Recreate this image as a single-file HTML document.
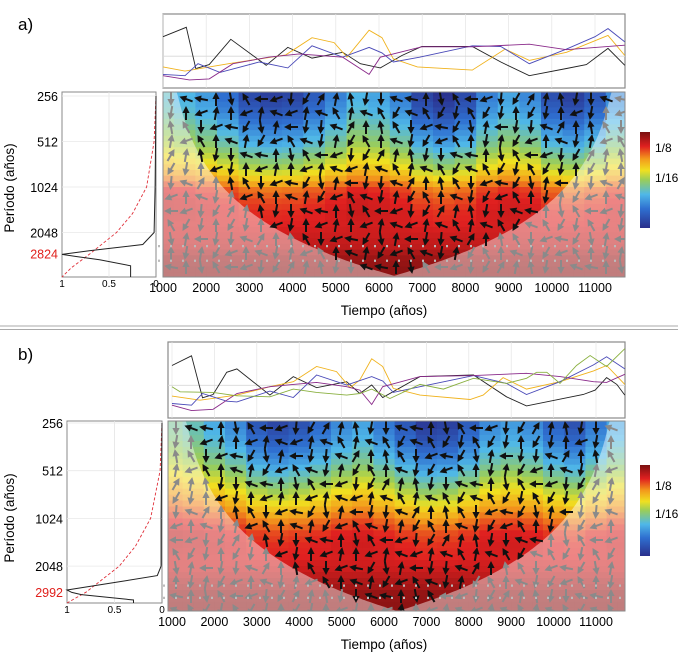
<!DOCTYPE html>
<html><head><meta charset="utf-8">
<style>
html,body{margin:0;padding:0;background:#fff;}
svg{display:block;font-family:"Liberation Sans",sans-serif;}
</style></head>
<body>
<svg id="fig" width="678" height="653" viewBox="0 0 678 653" xmlns="http://www.w3.org/2000/svg">
<defs>
<linearGradient id="cbar" x1="0" y1="1" x2="0" y2="0">
<stop offset="0" stop-color="#2a2f8c"/><stop offset="0.2" stop-color="#2f6fd0"/><stop offset="0.35" stop-color="#4fb8e8"/><stop offset="0.5" stop-color="#9acd5a"/><stop offset="0.6" stop-color="#f0e020"/><stop offset="0.72" stop-color="#f39a1c"/><stop offset="0.85" stop-color="#e02020"/><stop offset="1" stop-color="#7a1010"/>
</linearGradient>
</defs>
<line x1="0" y1="326" x2="678" y2="326" stroke="#aaa" stroke-width="1"/>
<line x1="0" y1="329.5" x2="678" y2="329.5" stroke="#aaa" stroke-width="1"/>
<text x="18" y="30" font-size="17">a)</text>
<text x="18" y="360" font-size="17">b)</text>
</svg>
<script>
// ---------- DATA: panel a ----------
const aBlackT=[1000,1540,1760,2070,2570,3390,3890,4450,5160,5570,6030,6530,6990,8160,8820,9480,10340,10800,11300,11700];
const aBlackV=[158,187,60,72,150,70,125,92,110,75,62,100,128,128,80,38,60,72,122,70];
const aOrangeT=[1000,1510,2520,3840,4450,4960,5260,5770,6070,6330,6890,8160,8920,9480,10340,11300,11700];
const aOrangeV=[65,52,75,102,155,140,95,178,155,90,65,55,120,85,110,162,100];
const aBlueT=[1000,1510,1810,2320,3230,3890,4450,5160,5770,6070,6330,6940,8160,8820,9480,10340,11000,11300,11700];
const aBlueV=[42,38,75,48,80,62,130,95,125,108,80,95,130,128,75,120,158,183,142];
const aPurpleT=[1000,1610,2070,2620,3440,4150,5160,5770,6030,6990,8160,9480,10340,11700];
const aPurpleV=[38,25,28,75,95,105,95,42,95,127,127,135,118,132];
// ---------- DATA: panel b ----------
const bBlackT=[1000,1460,1720,1970,2290,2530,3310,3860,4410,5120,5430,5710,5970,6850,8110,8890,9360,10700,10980,11250,11490,11680];
const bBlackV=[156,185,60,70,136,146,68,123,90,108,73,98,61,123,128,63,36,70,83,120,100,68];
const bOrangeT=[1000,1660,2530,3310,3860,4410,4880,5200,5430,5710,5970,6220,6850,8030,8340,8810,9360,10150,10940,11250,11680];
const bOrangeV=[65,53,68,93,108,153,138,90,113,176,153,88,68,55,68,120,86,108,140,156,100];
const bBlueT=[1000,1460,1720,2290,2530,3310,3860,4410,5120,5710,5970,6220,6850,8110,8890,9360,10150,10940,11250,11680];
const bBlueV=[43,38,73,50,48,80,61,128,98,123,110,76,93,126,103,70,108,158,182,146];
const bPurpleT=[1000,1460,1970,2530,3310,3860,4410,5120,5430,5710,5970,6850,8110,9360,10150,10940,11250,11680];
const bPurpleV=[38,22,26,73,93,100,106,93,83,40,93,123,126,133,123,108,106,130];
const bGreenT=[1000,1190,1970,2530,3310,3860,4410,5120,5430,5710,6140,6850,7400,8110,8890,9360,9600,9840,10150,10540,10860,11250,11680];
const bGreenV=[93,78,76,66,63,86,76,68,73,86,58,100,86,118,103,118,136,136,103,156,186,153,206];
// global wavelet power (left panels)
const aGwsP=[256,1024,2048,2460,2700,2860,2950,3100,3400,4050];
const aGwsV=[0.0,0.01,0.02,0.14,0.7,1.0,0.85,0.6,0.27,0.27];
const aSigP=[256,512,1024,1536,2048,2824,3500,4050];
const aSigV=[0.0,0.02,0.1,0.25,0.42,0.7,0.9,1.0];
const bGwsP=[256,1024,2048,2350,2600,2900,3000,3100,3350,3520];
const bGwsV=[0.0,0.01,0.01,0.05,0.5,1.0,0.95,0.85,0.3,0.3];
const bSigP=[256,512,1024,1536,2048,2992,3520];
const bSigV=[0.0,0.02,0.12,0.28,0.45,0.8,1.0];
// coherence power: row profile (log2 period 8..12 step .25), column adjustment (1000..11500 step 500)
const aRowPower=[0.2,0.24,0.3,0.36,0.42,0.5,0.58,0.68,0.8,0.84,0.86,0.86,0.88,0.9,0.95,0.97,0.97];
const aColAdj=[0.1,0.08,0.05,0.0,-0.06,-0.08,-0.07,-0.03,0.02,0.08,0.06,0.02,-0.07,-0.1,-0.06,0.02,0.06,0.03,-0.05,-0.08,-0.04,0.03];
const bRowPower=[0.22,0.26,0.32,0.38,0.46,0.54,0.62,0.7,0.78,0.84,0.86,0.86,0.88,0.92,0.96,0.97,0.97];
const bColAdj=[0.12,0.1,0.06,0.02,-0.05,-0.08,-0.06,-0.02,0.02,0.05,0.0,-0.05,-0.1,-0.09,-0.04,0.02,0.04,0.02,-0.03,-0.06,0.0,0.05];
const xTicks=[1000,2000,3000,4000,5000,6000,7000,8000,9000,10000,11000];
const yTicks=[256,512,1024,2048];

const NS="http://www.w3.org/2000/svg";
const svg=document.getElementById('fig');
function mk(tag,attrs,parent){const e=document.createElementNS(NS,tag);for(const k in attrs)e.setAttribute(k,attrs[k]);(parent||svg).appendChild(e);return e;}
const stops=[[0,[42,47,140]],[0.2,[47,111,208]],[0.35,[79,184,232]],[0.5,[154,205,90]],[0.6,[240,224,32]],[0.72,[243,154,28]],[0.85,[224,32,32]],[1,[122,16,16]]];
function cmap(v){v=Math.max(0,Math.min(1,v));for(let i=1;i<stops.length;i++){if(v<=stops[i][0]){const a=stops[i-1],b=stops[i];const f=(v-a[0])/(b[0]-a[0]);const c=a[1].map((x,k)=>Math.round(x+(b[1][k]-x)*f));return `rgb(${c})`;}}return 'rgb(122,16,16)';}

function panel(cfg){
  const P=cfg;
  const xs=t=>P.x0px+(t-1000)*P.pxPerYr;
  const ys=p=>P.y256+Math.log2(p/256)*P.pxPerOct;
  const g=mk('g',{});
  
  
  // top time series
  const T=P.top;
  const tg=mk('g',{},g);
  
  
  mk('rect',{x:T.x,y:T.y,width:T.w,height:T.h,fill:'#fff',stroke:'#8a8a8a','stroke-width':1.2},tg);
  xTicks.forEach(t=>{const gl=mk('line',{x1:xs(t),x2:xs(t),y1:T.y,y2:T.y+T.h,stroke:'#e4e4e4','stroke-width':0.7},tg);});
  mk('line',{x1:T.x,x2:T.x+T.w,y1:T.y+T.h*0.57,y2:T.y+T.h*0.57,stroke:'#d8d8d8','stroke-width':0.8},tg);
  const vy=v=>T.y+T.h-v/P.vmax*T.h;
  P.series.forEach(s=>{
    const d=s.t.map((t,i)=>(i?'L':'M')+xs(Math.min(t,11690)).toFixed(1)+','+vy(s.v[i]).toFixed(1)).join('');
    const pth=mk('path',{d:d,fill:'none',stroke:s.c,'stroke-width':0.9},tg);
    
    
  });
  // heatmap
  const H=P.heat;
  const hg=mk('g',{},g);
  
  
  const cid=P.id+'clip';
  const cp=mk('clipPath',{id:cid},hg);mk('rect',{x:H.x,y:H.y,width:H.w,height:H.h},cp);
  const cells=mk('g',{'clip-path':`url(#${cid})`},hg);
  const tStep=250, lStep=0.125;
  for(let t=750;t<11900;t+=tStep){
    const ci=Math.max(0,Math.min(P.colAdj.length-1,Math.round((t-1000)/500)));
    for(let l=7.75;l<12.2;l+=lStep){
      const ri=(l-8)/0.25;const r0=Math.max(0,Math.min(P.row.length-1,Math.floor(ri)));const r1=Math.min(P.row.length-1,r0+1);const f=Math.max(0,Math.min(1,ri-r0));
      const base=P.row[r0]*(1-f)+P.row[r1]*f;
      const w=Math.max(0,1-(l-8)/3);
      const v=base+P.colAdj[ci]*w*1.8;
      const x1=xs(t),x2=xs(t+tStep),y1=ys(256*Math.pow(2,l-8)),y2=ys(256*Math.pow(2,l-8+lStep));
      const r=mk('rect',{x:x1.toFixed(1),y:y1.toFixed(1),width:(x2-x1+0.6).toFixed(1),height:(y2-y1+0.6).toFixed(1),fill:cmap(v)},cells);
      
      
    }
  }
  const coi=t=>Math.max(1,0.74*Math.min(t-P.tStart,P.tEnd-t));
  const pts=[];
  for(let t=P.tStart;t<=P.tEnd;t+=50){const y=Math.min(H.y+H.h,ys(coi(t)));pts.push([xs(t),Math.max(H.y-2,y)]);}
  const cone='M'+pts.map(p=>p[0].toFixed(1)+','+p[1].toFixed(1)).join('L')+'Z';
  const outside=`M${H.x},${H.y}H${H.x+H.w}V${H.y+H.h}H${H.x}Z`+cone;
  const ov=mk('path',{d:outside,fill:'#fff','fill-opacity':0.45,'fill-rule':'evenodd','clip-path':`url(#${cid})`},hg);
  
  
  // phase arrows
  const angs=[90,-90,180,120,-100,200,80,160,-60,100,190,-120,95,-80];
  const ag=mk('g',{'clip-path':`url(#${cid})`},hg);
  let i=0;
  for(let x=H.x+8;x<H.x+H.w;x+=15){
    let j=0;
    for(let y=H.y+7;y<H.y+H.h;y+=14){
      const t=1000+(x-P.x0px)/P.pxPerYr;const p=256*Math.pow(2,(y-P.y256)/P.pxPerOct);
      const inside=p<coi(t);
      const a=angs[(i*5+j*9+((i*j)%4))%angs.length];
      const ar=mk('g',{transform:`translate(${x.toFixed(1)},${y.toFixed(1)}) rotate(${a})`},ag);
      const col=inside?'#111':'#8a8a8a';
      mk('line',{x1:-7,y1:0,x2:2,y2:0,stroke:col,'stroke-width':2},ar);
      mk('path',{d:'M7,0L0,-3.6L0,3.6Z',fill:col},ar);
      
      
      j++;
    }
    i++;
  }
  P.dotted.forEach(p=>{const dl=mk('line',{x1:P.left.x,x2:H.x+H.w,y1:ys(p),y2:ys(p),stroke:'#bbb','stroke-width':2.2,'stroke-dasharray':'2,10'},g);});
  mk('rect',{x:H.x,y:H.y,width:H.w,height:H.h,fill:'none',stroke:'#8a8a8a','stroke-width':1},hg);
  xTicks.forEach(t=>{const tx=mk('text',{x:xs(t),y:H.y+H.h+15,'font-size':12.5,'text-anchor':'middle'},g);tx.textContent=t;});
  const xt=mk('text',{x:384,y:H.y+H.h+38,'font-size':13.5,'text-anchor':'middle'},g);xt.textContent='Tiempo (años)';
  
  // left global power plot
  const L=P.left;
  const lg=mk('g',{},g);
  
  
  mk('rect',{x:L.x,y:L.y,width:L.w,height:L.h,fill:'#fff',stroke:'#8a8a8a','stroke-width':1},lg);
  const lx=v=>L.x+L.w-v*L.w;
  mk('line',{x1:lx(0.5),x2:lx(0.5),y1:L.y,y2:L.y+L.h,stroke:'#e4e4e4','stroke-width':0.8},lg);
  yTicks.forEach(p=>{mk('line',{x1:L.x,x2:L.x+L.w,y1:ys(p),y2:ys(p),stroke:'#e8e8e8','stroke-width':0.8},lg);
    const tl=mk('text',{x:L.x-4,y:ys(p)+5,'font-size':12.5,'text-anchor':'end'},g);tl.textContent=p;});
  const rl=mk('text',{x:L.x-4,y:ys(P.peak)+5,'font-size':12.5,'text-anchor':'end',fill:'#e0201c'},g);rl.textContent=P.peak;
  
  const sig=mk('path',{d:P.sigP.map((p,k)=>(k?'L':'M')+lx(P.sigV[k]).toFixed(1)+','+Math.min(L.y+L.h,ys(p)).toFixed(1)).join(''),fill:'none',stroke:'#e0303a','stroke-width':0.9,'stroke-dasharray':'3,2'},lg);
  
  const gw=mk('path',{d:P.gwsP.map((p,k)=>(k?'L':'M')+lx(P.gwsV[k]).toFixed(1)+','+Math.min(L.y+L.h,ys(p)).toFixed(1)).join(''),fill:'none',stroke:'#222','stroke-width':1},lg);
  
  [['1',1],['0.5',0.5],['0',0]].forEach(([s,v])=>{const t=mk('text',{x:lx(v),y:L.y+L.h+10,'font-size':10,'text-anchor':'middle'},g);t.textContent=s;});
  const yt=mk('text',{x:0,y:0,'font-size':13.5,'text-anchor':'middle',transform:`translate(14,${P.ytitleY}) rotate(-90)`},g);yt.textContent='Período (años)';
  
  // colorbar
  const C=P.cbar;
  const cb=mk('rect',{x:C.x,y:C.y,width:10,height:C.h,fill:'url(#cbar)'},g);
  
  [['1/8',C.l8],['1/16',C.l16]].forEach(([s,y])=>{const t=mk('text',{x:C.x+15,y:y,'font-size':12},g);t.textContent=s;});
}

panel({id:'a',x0px:163,pxPerYr:0.0432,y256:96,pxPerOct:45.5,vmax:228,tStart:1000,tEnd:11700,
  top:{x:163,y:14,w:462,h:74},heat:{x:163,y:92,w:462,h:185},left:{x:62,y:92,w:94,h:185},
  series:[{n:'black',t:aBlackT,v:aBlackV,c:'#222'},{n:'orange',t:aOrangeT,v:aOrangeV,c:'#f0b21c'},{n:'blue',t:aBlueT,v:aBlueV,c:'#4a4ab8'},{n:'purple',t:aPurpleT,v:aPurpleV,c:'#8a2a8a'}],
  row:aRowPower,colAdj:aColAdj,gwsP:aGwsP,gwsV:aGwsV,sigP:aSigP,sigV:aSigV,peak:2824,dotted:[2520,3150],ytitleY:188,
  cbar:{x:640,y:132,h:96,l8:152,l16:182}});
panel({id:'b',x0px:172,pxPerYr:0.0424,y256:423,pxPerOct:47.7,vmax:226,tStart:1000,tEnd:11650,
  top:{x:168,y:342,w:457,h:76},heat:{x:168,y:421,w:457,h:190},left:{x:67,y:421,w:95,h:182},
  series:[{n:'black',t:bBlackT,v:bBlackV,c:'#222'},{n:'orange',t:bOrangeT,v:bOrangeV,c:'#f0b21c'},{n:'blue',t:bBlueT,v:bBlueV,c:'#4a4ab8'},{n:'purple',t:bPurpleT,v:bPurpleV,c:'#8a2a8a'},{n:'green',t:bGreenT,v:bGreenV,c:'#8ab040'}],
  row:bRowPower,colAdj:bColAdj,gwsP:bGwsP,gwsV:bGwsV,sigP:bSigP,sigV:bSigV,peak:2992,dotted:[2720,3250],ytitleY:518,
  cbar:{x:640,y:465,h:91,l8:490,l16:518}});
</script>
</body></html>
